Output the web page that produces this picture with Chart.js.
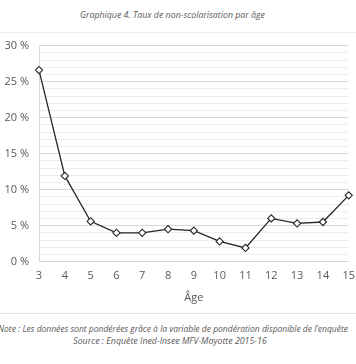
<!DOCTYPE html>
<html><head><meta charset="utf-8">
<script src="https://cdn.jsdelivr.net/npm/chart.js@4"></script>
<style>
html,body{margin:0;padding:0;background:#fff;width:356px;height:364px;overflow:hidden;font-family:"Open Sans",sans-serif;position:relative;}
#wrap{position:absolute;left:0;top:29px;width:363px;height:275px;}
.txt{position:absolute;white-space:nowrap;font-style:italic;color:#595959;font-size:8.8px;}
#title{top:9px;left:0;width:345px;text-align:center;}
#topline{position:absolute;top:32px;left:0;width:356px;height:1px;background:#ececec;}
#sep{position:absolute;top:313px;left:0;width:356px;height:1px;background:#e4e4e4;}
#note{top:323px;right:8px;font-size:8.5px;}
#source{top:335px;left:0;width:340px;text-align:center;}
</style></head><body>
<div class="txt" id="title">Graphique 4. Taux de non-scolarisation par âge</div>
<div id="topline"></div>
<div id="wrap"><canvas id="c"></canvas></div>
<div id="sep"></div>
<div class="txt" id="note">Note : Les données sont pondérées grâce à la variable de pondération disponible de l’enquête</div>
<div class="txt" id="source">Source : Enquête Ined-Insee MFV-Mayotte 2015-16</div>
<script>
const ages = ["3","4","5","6","7","8","9","10","11","12","13","14","15"];
const tauxNonScolarisation = [26.6, 11.9, 5.6, 4.0, 4.0, 4.5, 4.3, 2.8, 1.9, 6.0, 5.3, 5.5, 9.2];
const yTickValues = [0, 5, 10, 15, 20, 25, 30];
const xAxisTitle = "Âge";

new Chart(document.getElementById('c'), {
  type: 'line',
  data: {
    labels: ages,
    datasets: [{
      data: tauxNonScolarisation,
      borderColor: '#262626',
      borderWidth: 1.3,
      pointStyle: 'rectRot',
      pointRadius: 3.6,
      pointBackgroundColor: '#ffffff',
      pointBorderColor: '#262626',
      pointBorderWidth: 1.1,
      tension: 0,
      fill: false
    }]
  },
  options: {
    responsive: true,
    maintainAspectRatio: false,
    animation: false,
    layout: { padding: { left: 0, right: 0, top: 4, bottom: 0 } },
    plugins: { legend: { display: false }, tooltip: { enabled: false } },
    scales: {
      x: {
        offset: false,
        grid: { display: false, drawTicks: false },
        border: { display: true, color: '#d9d9d9', width: 1 },
        ticks: { color: '#595959', font: { family: 'Open Sans', size: 11 }, padding: 8, maxRotation: 0, autoSkip: false },
        title: { display: true, text: xAxisTitle, color: '#595959', font: { family: 'Open Sans', size: 11 }, padding: { top: 0, bottom: 0 } }
      },
      y: {
        min: 0, max: 30,
        afterFit: s => { s.width = 39; },
        afterBuildTicks: s => { s.ticks = Array.from({length: 31}, (_, i) => ({ value: i })); },
        grid: {
          drawTicks: false,
          color: ctx => (yTickValues.includes(ctx.tick.value) ? '#d9d9d9' : '#ededed'),
          lineWidth: 1
        },
        border: { display: true, color: '#d9d9d9', width: 1 },
        ticks: {
          color: '#595959', font: { family: 'Open Sans', size: 11 }, padding: 10, autoSkip: false,
          callback: v => (yTickValues.includes(v) ? v + ' %' : '')
        }
      }
    }
  }
});
</script>
</body></html>
